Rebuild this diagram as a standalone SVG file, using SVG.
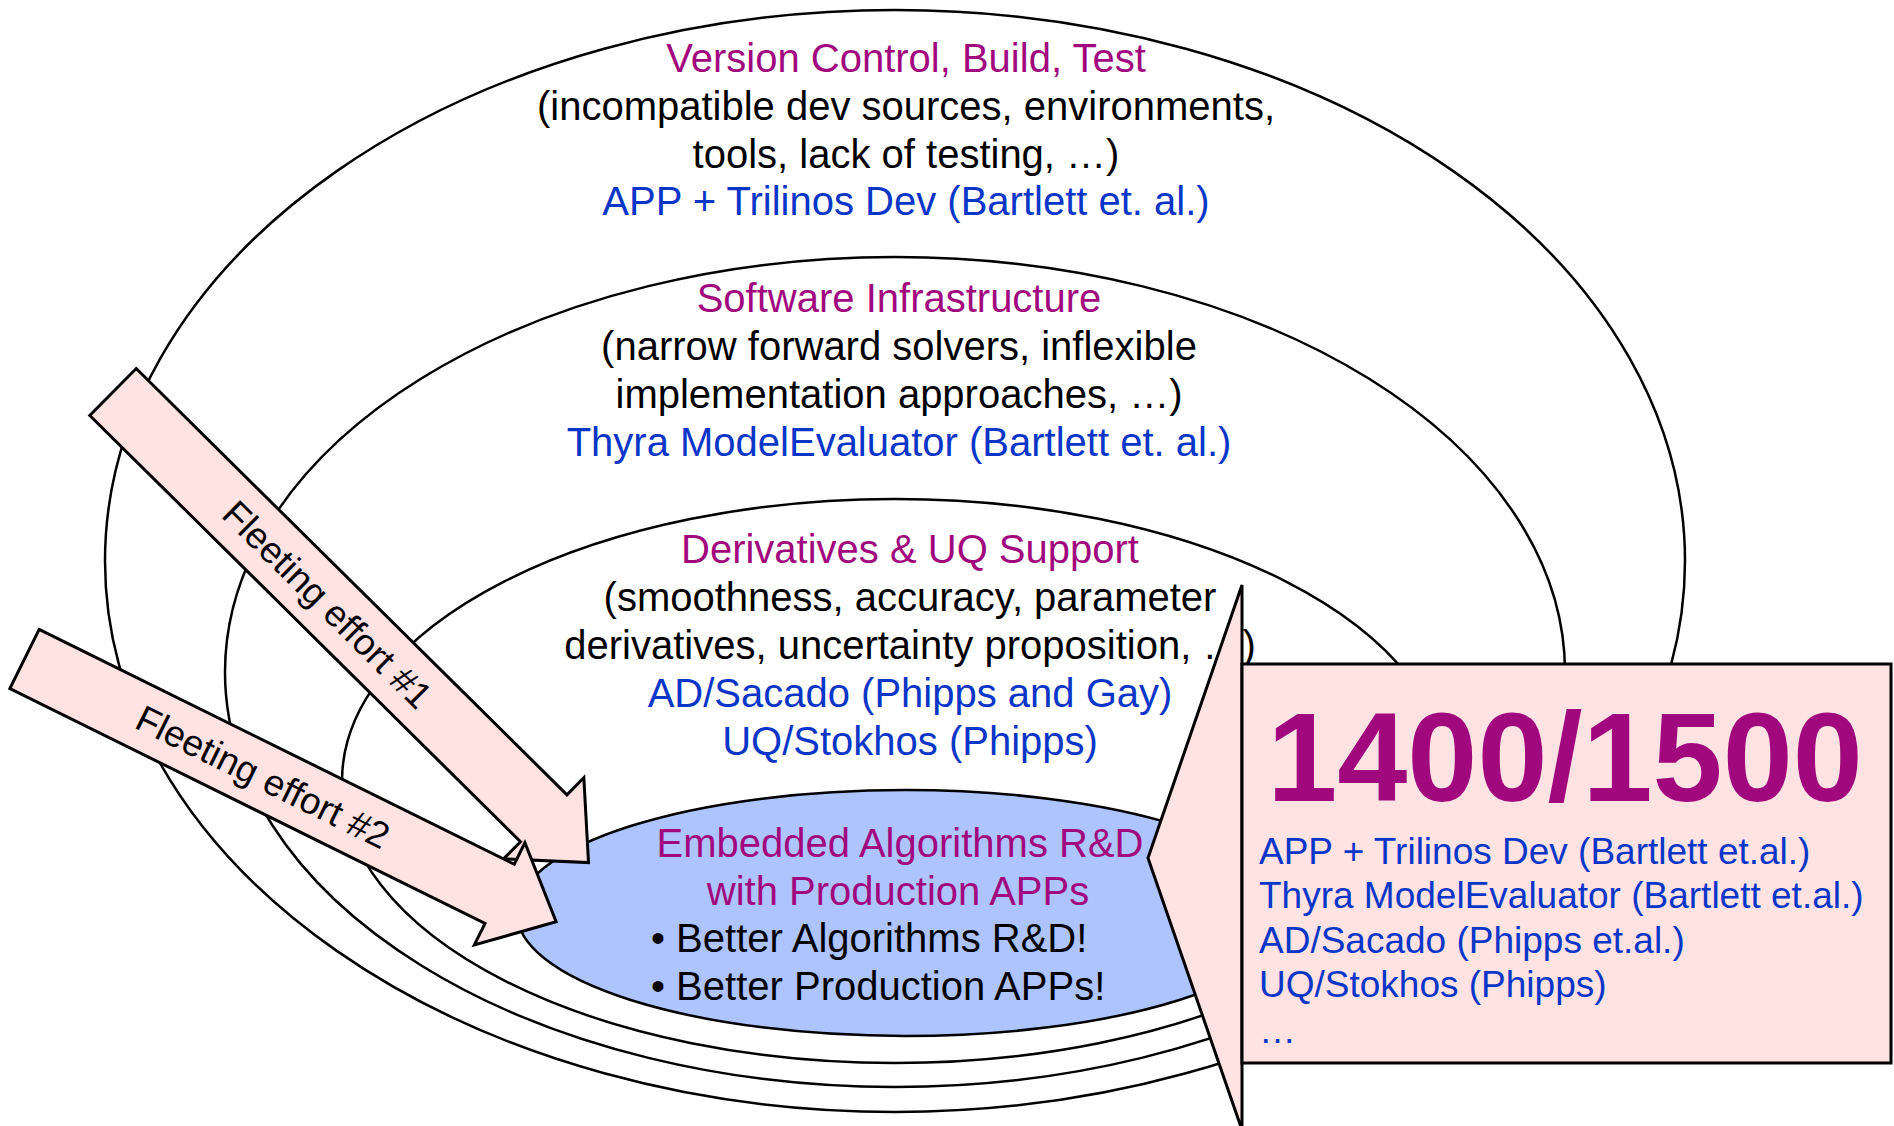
<svg xmlns="http://www.w3.org/2000/svg" width="1894" height="1126" viewBox="0 0 1894 1126">
<style>
.ring{fill:#ffffff;stroke:#000;stroke-width:2.5}
.core{fill:#aec4ff;stroke:#000;stroke-width:2.5}
.pk{fill:#ffe2e2;stroke:#000;stroke-width:3;stroke-linejoin:miter}
text{font-family:"Liberation Sans",Arial,sans-serif}
.t{font-size:40px;text-anchor:middle}
.mg{fill:#a2087e}
.bl{fill:#0a36c8}
.bk{fill:#000}
.lst{font-size:37px;fill:#0a36c8}
.arw{font-size:37px;fill:#000;text-anchor:middle}
</style>
<rect width="1894" height="1126" fill="#ffffff"/>
<g id="ring-vcs">
<ellipse class="ring" cx="895" cy="561" rx="790" ry="551"/>
<text class="t mg" x="906" y="72">Version Control, Build, Test</text>
<text class="t bk" x="906" y="120">(incompatible dev sources, environments,</text>
<text class="t bk" x="906" y="168">tools, lack of testing, …)</text>
<text class="t bl" x="906" y="215">APP + Trilinos Dev (Bartlett et. al.)</text>
</g>
<g id="ring-software">
<ellipse class="ring" cx="895" cy="672" rx="670" ry="415"/>
<text class="t mg" x="899" y="312">Software Infrastructure</text>
<text class="t bk" x="899" y="360">(narrow forward solvers, inflexible</text>
<text class="t bk" x="899" y="408">implementation approaches, …)</text>
<text class="t bl" x="899" y="456">Thyra ModelEvaluator (Bartlett et. al.)</text>
</g>
<g id="ring-derivatives">
<ellipse class="ring" cx="895" cy="781" rx="553" ry="282"/>
<text class="t mg" x="910" y="563">Derivatives &amp; UQ Support</text>
<text class="t bk" x="910" y="611">(smoothness, accuracy, parameter</text>
<text class="t bk" x="910" y="659">derivatives, uncertainty proposition, …)</text>
<text class="t bl" x="910" y="707">AD/Sacado (Phipps and Gay)</text>
<text class="t bl" x="910" y="755">UQ/Stokhos (Phipps)</text>
</g>
<g id="core-embedded">
<ellipse class="core" cx="905" cy="913" rx="388" ry="123"/>
<text class="t mg" x="900" y="857">Embedded Algorithms R&amp;D</text>
<text class="t mg" x="898" y="905">with Production APPs</text>
<text class="bk" x="651" y="952" font-size="40">• Better Algorithms R&amp;D!</text>
<text class="bk" x="651" y="1000" font-size="40">• Better Production APPs!</text>
</g>
<g id="connectors">
<g id="arrow-effort-1" transform="translate(113,392) rotate(44.7)">
<polygon class="pk" points="0,-33 606,-33 606,-57 669,0 606,57 606,33 0,33"/>
<text class="arw" x="302" y="13">Fleeting effort #1</text>
</g>
<g id="arrow-effort-2" transform="translate(24.5,659) rotate(26.3)">
<polygon class="pk" points="0,-33 530,-33 530,-57 593,0 530,57 530,33 0,33"/>
<text class="arw" x="266" y="13">Fleeting effort #2</text>
</g>
</g>
<g id="callout-1400">
<polygon class="pk" points="1242,585 1148,858 1242,1130"/>
<rect class="pk" x="1242" y="664" width="649" height="399"/>
<text x="1565" y="801" font-size="126" font-weight="bold" text-anchor="middle" fill="#a2087e">1400/1500</text>
<text class="lst" x="1259" y="864">APP + Trilinos Dev (Bartlett et.al.)</text>
<text class="lst" x="1259" y="908">Thyra ModelEvaluator (Bartlett et.al.)</text>
<text class="lst" x="1259" y="953">AD/Sacado (Phipps et.al.)</text>
<text class="lst" x="1259" y="997">UQ/Stokhos (Phipps)</text>
<text class="lst" x="1259" y="1043">…</text>
</g>
</svg>
